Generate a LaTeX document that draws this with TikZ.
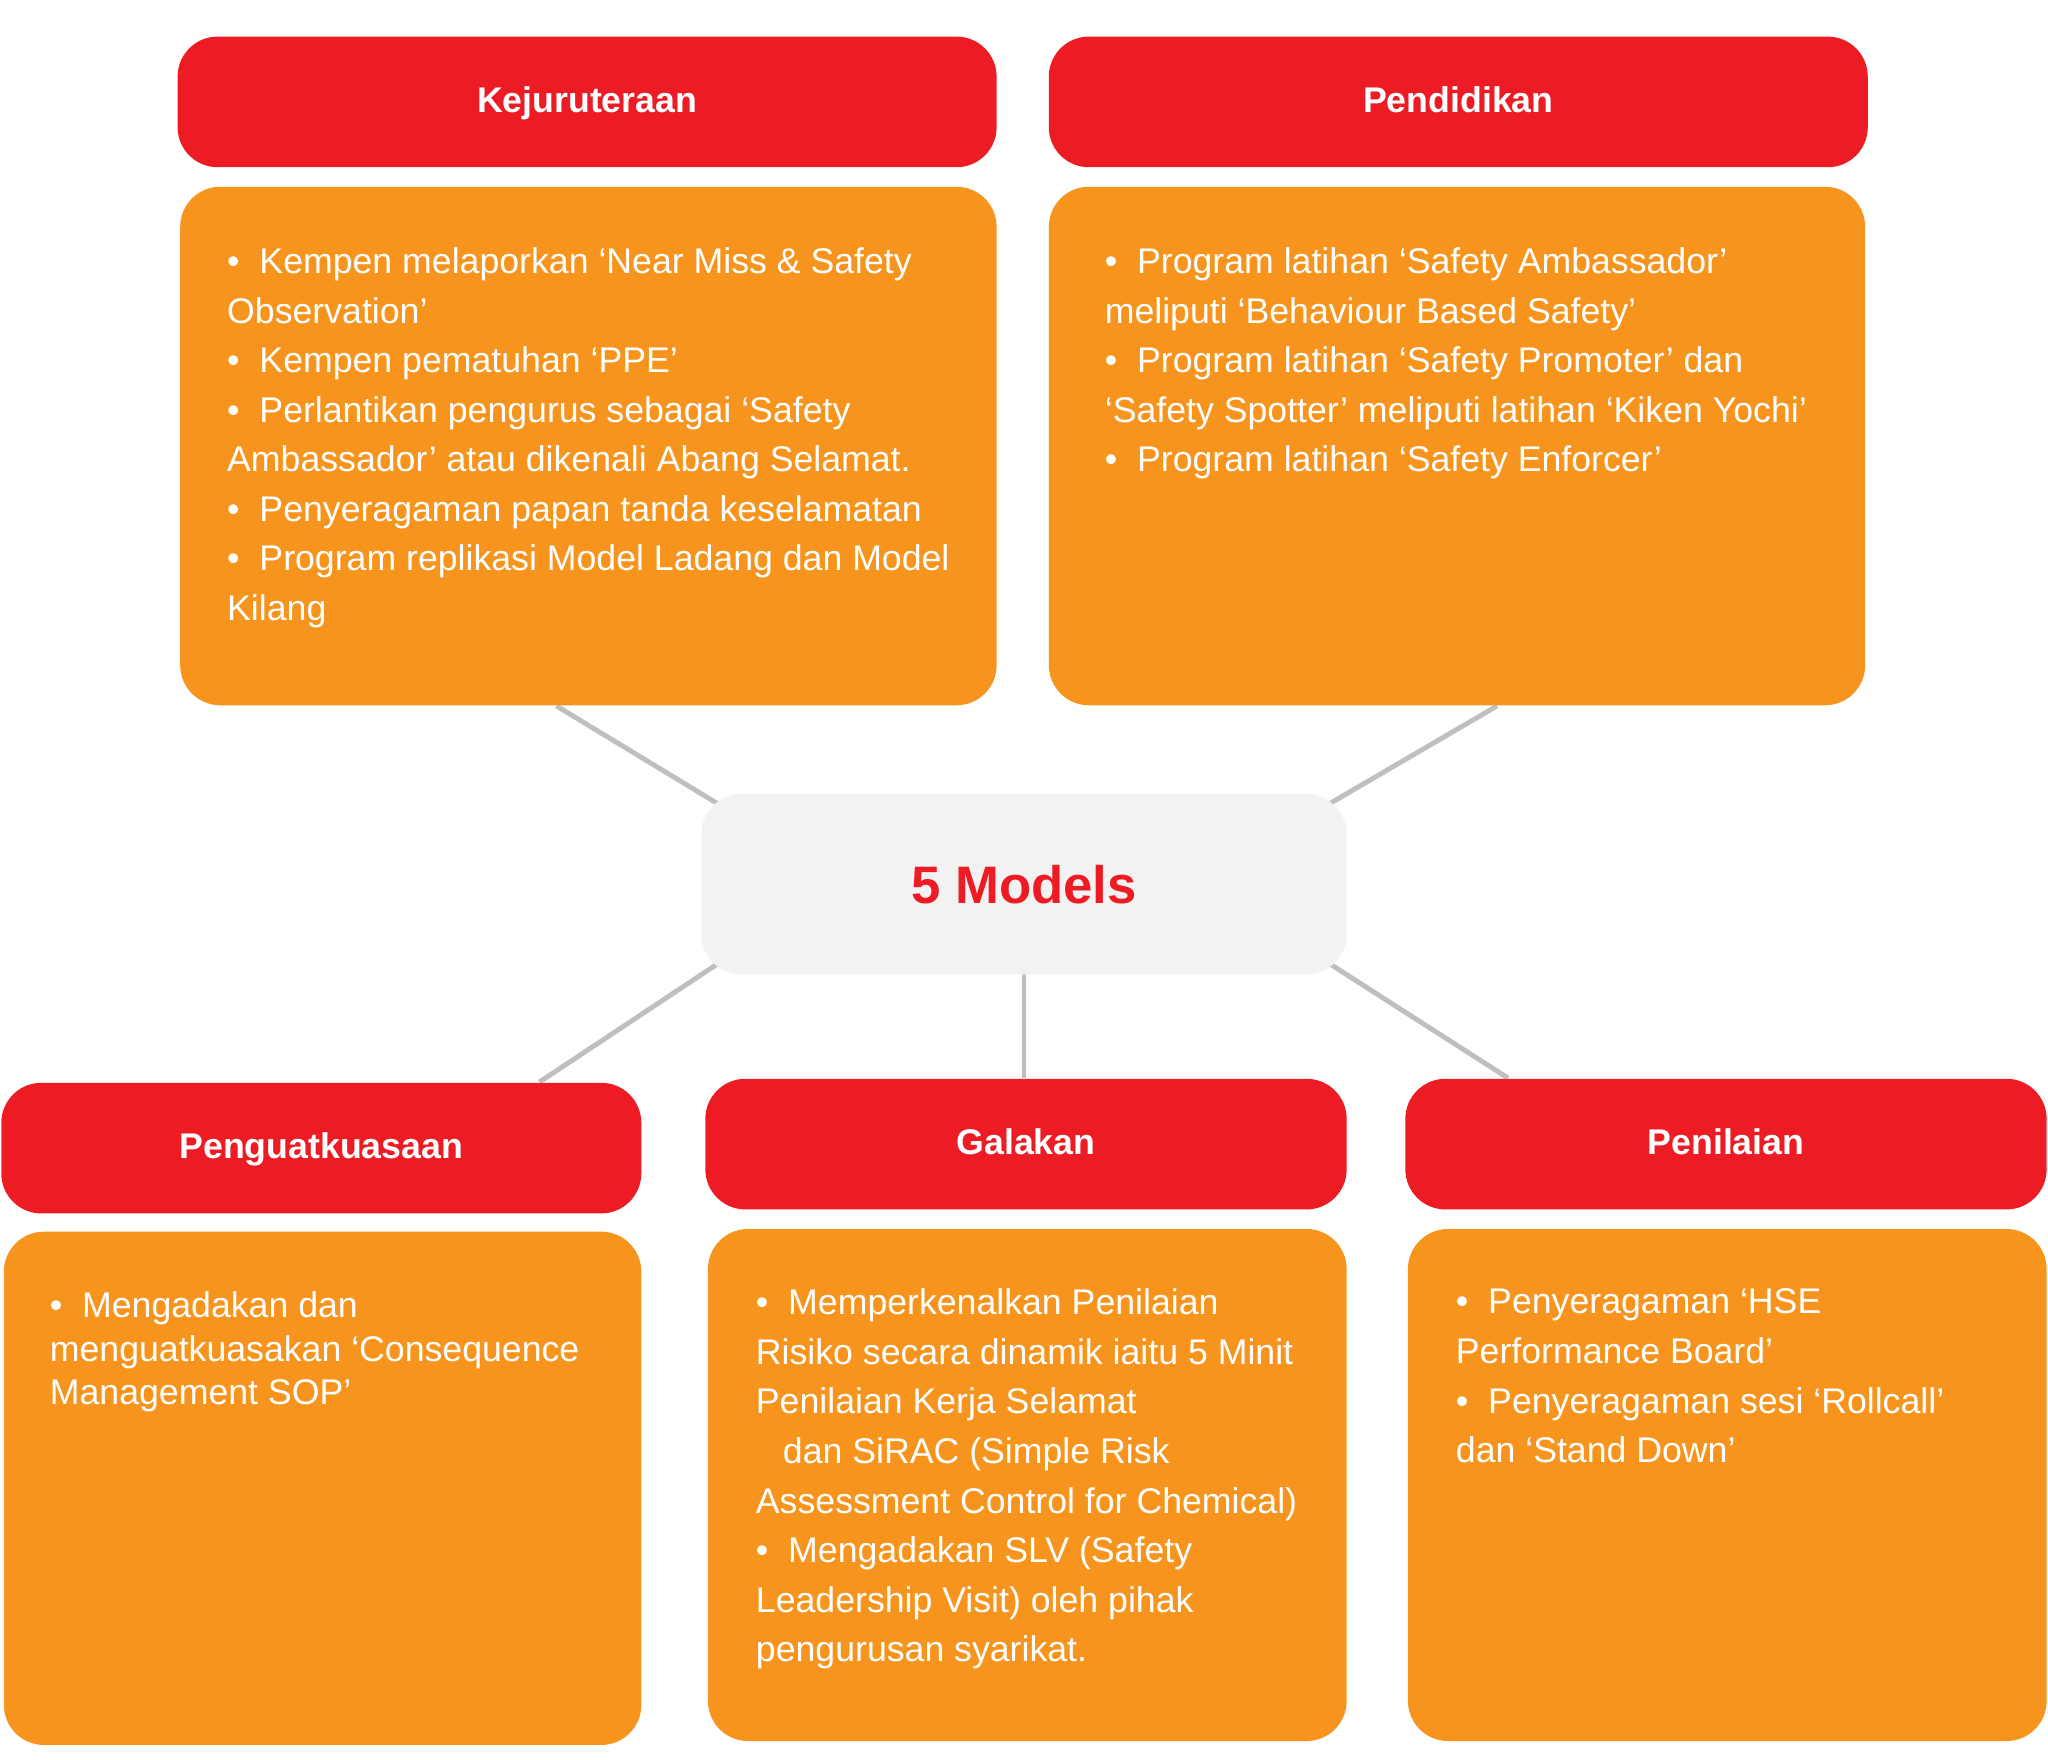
\documentclass[tikz,border=0pt]{standalone}
\usepackage{fontspec}
\setmainfont{Liberation Sans}
\usetikzlibrary{calc,backgrounds}
\definecolor{hdrred}{HTML}{ED1C24}
\definecolor{bodyorange}{HTML}{F7941D}
\definecolor{hubgray}{HTML}{F2F2F2}
\definecolor{linkgray}{HTML}{BFBFBF}
\tikzset{
  header/.style={fill=hdrred, rounded corners=0.4cm, inner sep=0pt, text=white,
    minimum height=1.306cm, text height=7.3pt, text depth=1.25pt,
    font=\bfseries\fontsize{10.15}{12.5}\selectfont},
  bodybox/.style={fill=bodyorange, rounded corners=0.4cm, inner sep=0pt},
  bodytext/.style={anchor=north west, inner sep=0pt, align=left, text=white,
    font=\fontsize{10.15}{14.1}\selectfont},
  link/.style={draw=linkgray, line width=1.4pt}
}
\begin{document}
\begin{tikzpicture}
		%%%%% START %%%%%
		\useasboundingbox (0, 0) rectangle (20.48, -17.6);
		
		% top row
		\node[header, minimum width=8.19cm] (kejhead) at (5.871, -1.019) {Kejuruteraan};
		\node[bodybox, minimum width=8.164cm, minimum height=5.185cm] (kejbody) at (5.884, -4.46) {};
		\node[header, minimum width=8.19cm] (pendhead) at (14.583, -1.019) {Pendidikan};
		\node[bodybox, minimum width=8.163cm, minimum height=5.185cm] (pendbody) at (14.57, -4.46) {};
		
		\node[bodytext] (kejtext) at ($(kejbody.north west)+(0.47, -0.61)$)
		{•~ Kempen melaporkan ‘Near Miss \& Safety\\
		 Observation’\\
		 •~ Kempen pematuhan ‘PPE’\\
		 •~ Perlantikan pengurus sebagai ‘Safety\\
		 Ambassador’ atau dikenali Abang Selamat.\\
		 •~ Penyeragaman papan tanda keselamatan\\
		 •~ Program replikasi Model Ladang dan Model\\
		 Kilang};
		\node[bodytext] (pendtext) at ($(pendbody.north west)+(0.56, -0.61)$)
		{•~ Program latihan ‘Safety Ambassador’\\
		 meliputi ‘Behaviour Based Safety’\\
		 •~ Program latihan ‘Safety Promoter’ dan\\
		 ‘Safety Spotter’ meliputi latihan ‘Kiken Yochi’\\
		 •~ Program latihan ‘Safety Enforcer’};
		
		% hub
		\node[fill=hubgray, rounded corners=0.4cm, inner sep=0pt, minimum width=6.452cm,
		  minimum height=1.803cm, text=hdrred, font=\bfseries\fontsize{15}{18}\selectfont]
		  (models) at (10.24, -8.842) {5 Models};
		
		% bottom row
		\node[header, minimum width=6.4cm] (penguathead) at (3.213, -11.481) {Penguatkuasaan};
		\node[bodybox, minimum width=6.374cm, minimum height=5.133cm] (penguatbody) at (3.226, -14.883) {};
		\node[header, minimum width=6.413cm] (galakhead) at (10.26, -11.441) {Galakan};
		\node[bodybox, minimum width=6.387cm, minimum height=5.12cm] (galakbody) at (10.273, -14.85) {};
		\node[header, minimum width=6.413cm] (nilaihead) at (17.26, -11.441) {Penilaian};
		\node[bodybox, minimum width=6.387cm, minimum height=5.12cm] (nilaibody) at (17.273, -14.85) {};
		
		\node[bodytext, font=\fontsize{10.15}{12.4}\selectfont] (penguattext) at ($(penguatbody.north west)+(0.46, -0.6)$)
		{•~ Mengadakan dan\\
		 menguatkuasakan ‘Consequence\\
		 Management SOP’};
		\node[bodytext] (galaktext) at ($(galakbody.north west)+(0.48, -0.6)$)
		{•~ Memperkenalkan Penilaian\\
		 Risiko secara dinamik iaitu 5 Minit\\
		 Penilaian Kerja Selamat\\
		 \hspace*{0.27cm}dan SiRAC (Simple Risk\\
		 Assessment Control for Chemical)\\
		 •~ Mengadakan SLV (Safety\\
		 Leadership Visit) oleh pihak\\
		 pengurusan syarikat.};
		\node[bodytext] (nilaitext) at ($(nilaibody.north west)+(0.48, -0.6)$)
		{•~ Penyeragaman ‘HSE\\
		 Performance Board’\\
		 •~ Penyeragaman sesi ‘Rollcall’\\
		 dan ‘Stand Down’};
		
		% connectors, under the boxes
		\begin{scope}[on background layer]
		\coordinate (kejfoot) at ($(kejbody.south west)!0.461!(kejbody.south east)$);
		\coordinate (pendfoot) at ($(pendbody.south west)!0.549!(pendbody.south east)$);
		\coordinate (penguattop) at ($(penguathead.north west)!0.84!(penguathead.north east)$);
		\coordinate (nilaitop) at ($(nilaihead.north west)!0.161!(nilaihead.north east)$);
		\draw[link] (kejfoot) -- ($(kejfoot)!1.15!(models.north west)$);
		\draw[link] (pendfoot) -- ($(pendfoot)!1.15!(models.north east)$);
		\draw[link] ($(penguattop)!1.15!(models.south west)$) -- (penguattop);
		\draw[link] (models.center) -- (models.center |- galakhead.north);
		\draw[link] ($(nilaitop)!1.15!(models.south east)$) -- (nilaitop);
		\end{scope}
		
		%%%%% END %%%%%
\end{tikzpicture}
\end{document}
